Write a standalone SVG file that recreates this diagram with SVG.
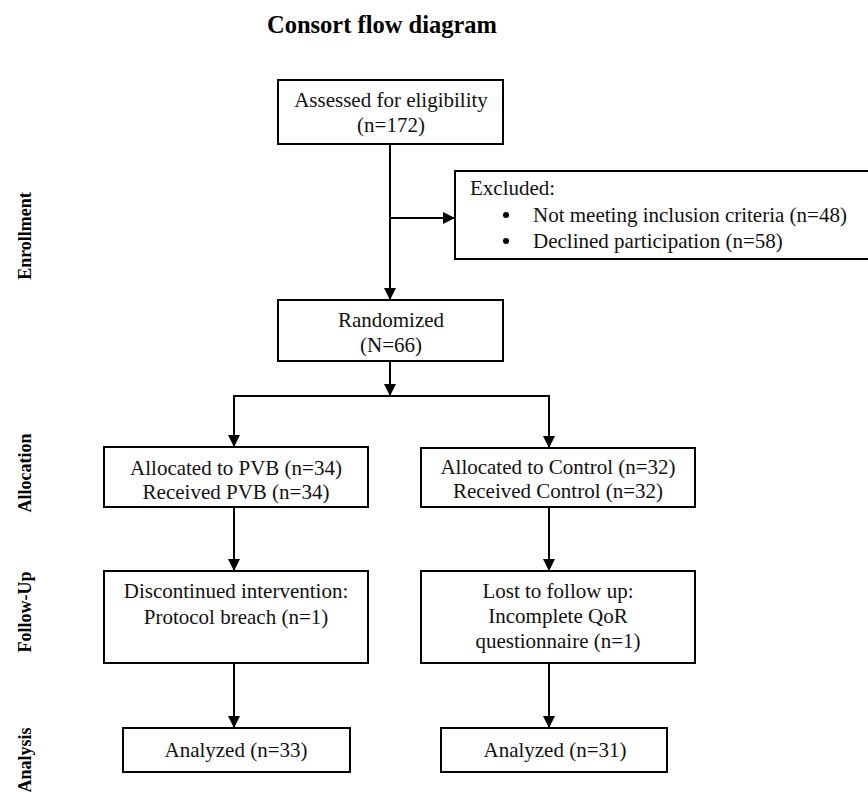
<svg xmlns="http://www.w3.org/2000/svg" width="868" height="792" viewBox="0 0 868 792">
<defs>
<style>
.box{fill:#fff;stroke:#000;stroke-width:2}
.t{font-family:"Liberation Serif","Times New Roman",serif;font-size:21px;fill:#111;text-anchor:middle}
.tl{font-family:"Liberation Serif","Times New Roman",serif;font-size:21px;fill:#111}
.lab{font-family:"Liberation Serif","Times New Roman",serif;font-size:18px;font-weight:bold;fill:#000;text-anchor:middle}
.title{font-family:"Liberation Serif","Times New Roman",serif;font-size:24.5px;font-weight:bold;fill:#000}
.c{stroke:#000;stroke-width:2;fill:none}
</style>
<marker id="ah" markerUnits="userSpaceOnUse" markerWidth="12" markerHeight="13" viewBox="0 0 12 13" refX="12" refY="6.5" orient="auto">
<path d="M0,0.5 L12,6.5 L0,12.5 Z" fill="#000"/>
</marker>
</defs>
<rect width="868" height="792" fill="#fff"/>
<text class="title" x="267" y="33">Consort flow diagram</text>

<g id="stage-labels">
<text class="lab" transform="translate(31,236) rotate(-90)">Enrollment</text>
<text class="lab" transform="translate(31,473) rotate(-90)">Allocation</text>
<text class="lab" transform="translate(31,612) rotate(-90)">Follow-Up</text>
<text class="lab" transform="translate(31,760) rotate(-90)">Analysis</text>
</g>

<g id="connectors">
<line class="c" x1="390" y1="144" x2="390" y2="300" marker-end="url(#ah)"/>
<line class="c" x1="390" y1="218" x2="455" y2="218" marker-end="url(#ah)"/>
<line class="c" x1="390" y1="361" x2="390" y2="396" marker-end="url(#ah)"/>
<line class="c" x1="233" y1="396" x2="550" y2="396"/>
<line class="c" x1="234" y1="395" x2="234" y2="447" marker-end="url(#ah)"/>
<line class="c" x1="549" y1="395" x2="549" y2="448" marker-end="url(#ah)"/>
<line class="c" x1="234" y1="507" x2="234" y2="571" marker-end="url(#ah)"/>
<line class="c" x1="549" y1="507" x2="549" y2="571" marker-end="url(#ah)"/>
<line class="c" x1="234" y1="663" x2="234" y2="728" marker-end="url(#ah)"/>
<line class="c" x1="549" y1="663" x2="549" y2="728" marker-end="url(#ah)"/>
</g>

<g id="assessed">
<rect class="box" x="278" y="80" width="225" height="64"/>
<text class="t" x="391" y="107">Assessed for eligibility</text>
<text class="t" x="391" y="132">(n=172)</text>
</g>

<g id="excluded">
<rect class="box" x="455" y="171" width="420" height="88"/>
<text class="tl" x="470" y="195">Excluded:</text>
<circle cx="506" cy="215" r="3" fill="#000"/>
<circle cx="506" cy="241" r="3" fill="#000"/>
<text class="tl" x="533" y="222">Not meeting inclusion criteria (n=48)</text>
<text class="tl" x="533" y="248">Declined participation (n=58)</text>
</g>

<g id="randomized">
<rect class="box" x="278" y="300" width="225" height="61"/>
<text class="t" x="391" y="327">Randomized</text>
<text class="t" x="391" y="352">(N=66)</text>
</g>

<g id="alloc-pvb">
<rect class="box" x="104" y="447" width="264" height="60"/>
<text class="t" x="236" y="475">Allocated to PVB (n=34)</text>
<text class="t" x="236" y="499">Received PVB (n=34)</text>
</g>

<g id="alloc-control">
<rect class="box" x="421" y="448" width="274" height="59"/>
<text class="t" x="558" y="474">Allocated to Control (n=32)</text>
<text class="t" x="558" y="498">Received Control (n=32)</text>
</g>

<g id="followup-pvb">
<rect class="box" x="104" y="571" width="264" height="92"/>
<text class="t" x="236" y="598">Discontinued intervention:</text>
<text class="t" x="236" y="624">Protocol breach (n=1)</text>
</g>

<g id="followup-control">
<rect class="box" x="421" y="571" width="274" height="92"/>
<text class="t" x="558" y="598">Lost to follow up:</text>
<text class="t" x="558" y="623">Incomplete QoR</text>
<text class="t" x="558" y="648">questionnaire (n=1)</text>
</g>

<g id="analysis-pvb">
<rect class="box" x="123" y="728" width="227" height="44"/>
<text class="t" x="236" y="757">Analyzed (n=33)</text>
</g>

<g id="analysis-control">
<rect class="box" x="441" y="728" width="226" height="44"/>
<text class="t" x="555" y="757">Analyzed (n=31)</text>
</g>
</svg>
